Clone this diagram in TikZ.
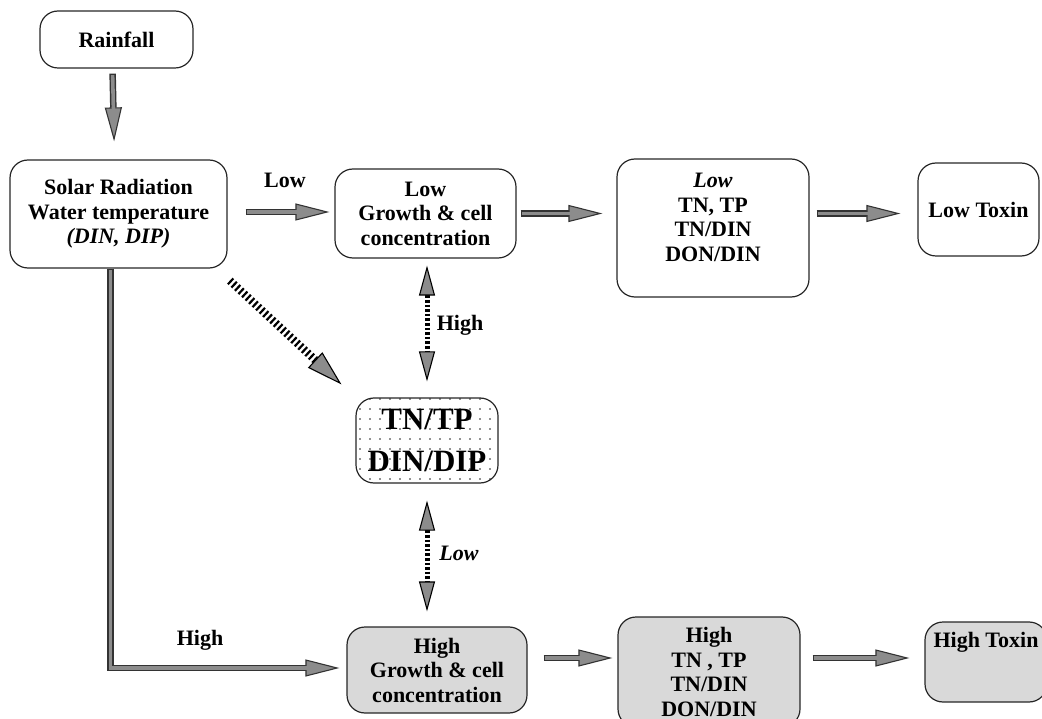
\documentclass[tikz,border=0pt]{standalone}
\usepackage{fontspec}
\setmainfont{Liberation Serif}
\usetikzlibrary{arrows.meta,patterns.meta}
\tikzset{
  box/.style={draw=black!85, line width=1.2pt, rounded corners=18pt, align=center,
    font=\fontsize{22}{24.5}\selectfont\bfseries, inner sep=0pt},
  hibox/.style={box, fill=black!15},
  dotbox/.style={box, font=\fontsize{31}{42}\selectfont\bfseries, preaction={fill=white},
    pattern={Dots[distance=10pt,radius=0.95pt]}, pattern color=black!85},
  lbl/.style={font=\fontsize{22}{24.5}\selectfont\bfseries, inner sep=0pt},
  fat/.style 2 args={draw=black!80, line width=6.5pt, line join=miter,
    -{Triangle[length=34pt,width=17pt,line width=1.1pt,fill=black!45]},
    shorten <=#1, shorten >=#2,
    postaction={draw=black!45, line width=3.6pt, -, shorten <=#1+1.5pt, shorten >=#2+32pt}},
  dashdbl/.style={draw=black, line width=5pt, dash pattern=on 2.6pt off 2pt,
    {Triangle[length=30pt,width=16pt,line width=1.1pt,fill=black!45]}-{Triangle[length=30pt,width=16pt,line width=1.1pt,fill=black!45]}},
  dashdiag/.style={draw=black, line width=8pt, dash pattern=on 2.2pt off 2.6pt,
    -{Triangle[length=36pt,width=21pt,line width=1.1pt,fill=black!45]}},
}
\begin{document}
\begin{tikzpicture}[x=1pt,y=-1pt]
\useasboundingbox (0,0) rectangle (1042,719);
% nodes
\node[box, minimum width=153pt, minimum height=57pt] (rain) at (116.5,39.5) {Rainfall};
\node[box, minimum width=217pt, minimum height=108pt] (solar) at (118.5,214) {Solar Radiation\\Water temperature\\\textit{(DIN, DIP)}};
\node[box, minimum width=181pt, minimum height=89pt] (lowg) at (425.5,213.5) {Low\\Growth \& cell\\concentration};
\node[box, minimum width=192pt, minimum height=138pt] (lowtn) at (713,228) {\textit{Low}\\TN, TP\\TN/DIN\\DON/DIN\\[-3pt]\mbox{}};
\node[box, minimum width=121pt, minimum height=93pt] (lowtox) at (978.5,209.5) {Low Toxin};
\node[dotbox, minimum width=142pt, minimum height=85pt] (tntp) at (427,440.5) {TN/TP\\DIN/DIP};
\node[hibox, minimum width=180pt, minimum height=86pt] (highg) at (437,670) {High\\Growth \& cell\\concentration};
\node[hibox, minimum width=182pt, minimum height=110pt] (hightn) at (709,672) {High\\TN , TP\\TN/DIN\\DON/DIN};
\node[hibox, minimum width=122pt, minimum height=80pt, text height=16pt, text depth=46pt] (hightox) at (986,662) {High Toxin};
% labels
\node[lbl] (lLow) at (285,180) {Low};
\node[lbl] (lHigh) at (460,325) {High};
\node[lbl] (lLowB) at (459,553) {\textit{Low}};
\node[lbl] (lHighB) at (200,640) {High};
% solid arrows
\draw[fat={5pt}{18pt}] ([xshift=-4pt]rain.south) -- ([xshift=-4pt]solar.north);
\draw[fat={18pt}{5pt}] ([yshift=2pt]solar.east) -- ([yshift=2pt]solar.east -| lowg.west);
\draw[fat={4pt}{14pt}] (lowg.east) -- (lowg.east -| lowtn.west);
\draw[fat={7pt}{17pt}] (lowg.east -| lowtn.east) -- (lowg.east -| lowtox.west);
\draw[fat={0pt}{7pt}] ([xshift=-8pt]solar.south) |- ([yshift=2pt]highg.west);
\draw[fat={16pt}{5pt}] ([yshift=12pt]highg.east) -- ([yshift=12pt]highg.east -| hightn.west);
\draw[fat={12pt}{15pt}] ([yshift=12pt]highg.east -| hightn.east) -- ([yshift=12pt]highg.east -| hightox.west);
% dashed arrows
\draw[dashdbl, shorten <=7pt, shorten >=16pt] (tntp.north |- lowg.south) -- (tntp.north);
\draw[dashdbl, shorten <=17pt, shorten >=15pt] (tntp.south) -- (tntp.south |- highg.north);
\draw[dashdiag, shorten <=3pt, shorten >=19pt] ([yshift=-10pt]solar.south east) -- (tntp.north west);
\end{tikzpicture}
\end{document}
